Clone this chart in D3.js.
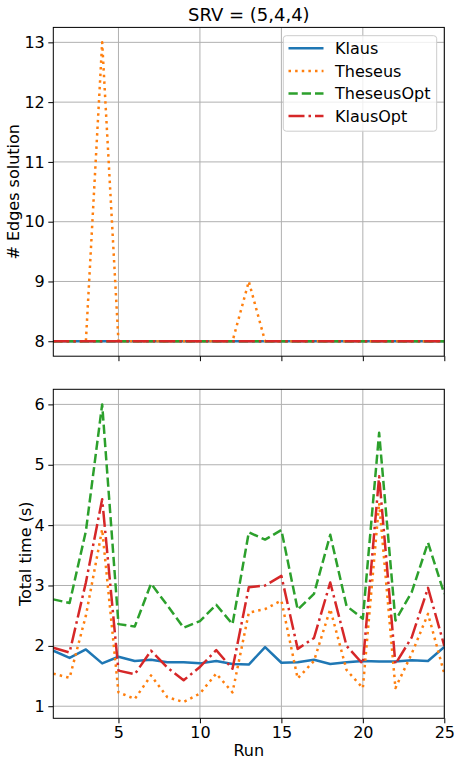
<!DOCTYPE html>
<html><head><meta charset="utf-8">
<script src="https://cdn.jsdelivr.net/npm/d3@7"></script>
<style>
html,body{margin:0;padding:0;background:#fff;}
svg{display:block;font-family:"DejaVu Sans",sans-serif;}
</style></head>
<body>
<script>
const title = "SRV = (5,4,4)";
const runs = d3.range(1, 26);
const seriesNames = ["Klaus", "Theseus", "TheseusOpt", "KlausOpt"];
const colors = ["#1f77b4", "#ff7f0e", "#2ca02c", "#d62728"];

const edgesKlaus      = [8,8,8,8,8,8,8,8,8,8,8,8,8,8,8,8,8,8,8,8,8,8,8,8,8];
const edgesTheseus    = [8,8,8,13,8,8,8,8,8,8,8,8,9,8,8,8,8,8,8,8,8,8,8,8,8];
const edgesTheseusOpt = [8,8,8,8,8,8,8,8,8,8,8,8,8,8,8,8,8,8,8,8,8,8,8,8,8];
const edgesKlausOpt   = [8,8,8,8,8,8,8,8,8,8,8,8,8,8,8,8,8,8,8,8,8,8,8,8,8];

const timeKlaus      = [1.92,1.80,1.94,1.71,1.82,1.75,1.77,1.73,1.73,1.71,1.75,1.70,1.69,1.98,1.72,1.73,1.77,1.70,1.73,1.75,1.74,1.74,1.76,1.75,1.98];
const timeTheseus    = [1.54,1.47,2.50,3.93,1.23,1.12,1.51,1.15,1.07,1.21,1.54,1.23,2.55,2.61,2.75,1.46,1.75,2.61,1.60,1.30,4.37,1.30,1.87,2.53,1.54];
const timeTheseusOpt = [2.77,2.71,3.90,6.00,2.36,2.32,3.03,2.67,2.30,2.41,2.68,2.36,3.88,3.76,3.92,2.60,2.86,3.84,2.66,2.45,5.53,2.42,2.89,3.71,2.86];
const timeKlausOpt   = [1.97,1.89,3.05,4.43,1.59,1.53,1.92,1.64,1.43,1.65,1.93,1.62,2.97,3.00,3.16,1.95,2.13,3.05,2.00,1.70,4.81,1.70,2.14,2.96,2.00];

const edgeTicks = [8,9,10,11,12,13];
const timeTicks = [1,2,3,4,5,6];
const xTicks = [5,10,15,20,25];

const W = 461, H = 766;
const L = 53.3, R = 444.3;
const top1 = 27.4, bot1 = 356.2;
const top2 = 389.3, bot2 = 718.3;
const LW = 2.5;
const dashes = [null, `${1*LW},${1.65*LW}`, `${3.7*LW},${1.6*LW}`, `${6.4*LW},${1.6*LW},${1*LW},${1.6*LW}`];

const svg = d3.select("body").append("svg").attr("width", W).attr("height", H);

const x = d3.scaleLinear().domain([1, 25]).range([L, R]);
const yE = d3.scaleLinear().domain([7.75, 13.25]).range([bot1, top1]);
const yT = d3.scaleLinear().domain([0.8, 6.25]).range([bot2, top2]);

function panel(y, top, bot, ticks, data, showX, ylabel, ylabelX) {
  const g = svg.append("g");
  const id = "clip" + Math.round(top);
  svg.append("clipPath").attr("id", id).append("rect")
    .attr("x", L).attr("y", top).attr("width", R - L).attr("height", bot - top);
  g.append("g").selectAll("line").data(xTicks).join("line")
    .attr("x1", d => x(d)).attr("x2", d => x(d)).attr("y1", top).attr("y2", bot)
    .attr("stroke", "#b0b0b0").attr("stroke-width", 1);
  g.append("g").selectAll("line").data(ticks).join("line")
    .attr("x1", L).attr("x2", R).attr("y1", d => y(d)).attr("y2", d => y(d))
    .attr("stroke", "#b0b0b0").attr("stroke-width", 1);
  const line = d3.line().x((d, i) => x(runs[i])).y(d => y(d));
  const lg = g.append("g").attr("clip-path", `url(#${id})`);
  data.forEach((arr, k) => {
    lg.append("path").attr("d", line(arr)).attr("fill", "none")
      .attr("stroke", colors[k]).attr("stroke-width", LW)
      .attr("stroke-dasharray", dashes[k]).attr("stroke-linejoin", "round")
      .attr("stroke-linecap", "butt");
  });
  const ax = d3.axisBottom(x).tickValues(xTicks).tickSize(5).tickPadding(3.5)
    .tickFormat(showX ? d3.format("d") : () => "");
  const gx = g.append("g").attr("transform", `translate(0,${bot})`).call(ax);
  const ay = d3.axisLeft(y).tickValues(ticks).tickSize(5).tickPadding(3.5).tickFormat(d3.format("d"));
  const gy = g.append("g").attr("transform", `translate(${L},0)`).call(ay);
  [gx, gy].forEach(a => {
    a.select(".domain").remove();
    a.selectAll("line").attr("stroke", "#000").attr("stroke-width", 1);
    a.selectAll("text").attr("fill", "#000").style("font-size", "16px").style("font-family", "DejaVu Sans");
  });
  g.append("rect").attr("x", L).attr("y", top).attr("width", R - L).attr("height", bot - top)
    .attr("fill", "none").attr("stroke", "#000").attr("stroke-width", 1);
  g.append("text").attr("transform", `translate(${ylabelX},${(top + bot) / 2}) rotate(-90)`)
    .attr("text-anchor", "middle").attr("dominant-baseline", "central")
    .style("font-size", "16px").text(ylabel);
}

panel(yE, top1, bot1, edgeTicks, [edgesKlaus, edgesTheseus, edgesTheseusOpt, edgesKlausOpt], false, "# Edges solution", 13);
panel(yT, top2, bot2, timeTicks, [timeKlaus, timeTheseus, timeTheseusOpt, timeKlausOpt], true, "Total time (s)", 25);

svg.append("text").attr("x", (L + R) / 2).attr("y", 21).attr("text-anchor", "middle")
  .style("font-size", "18px").text(title);
svg.append("text").attr("x", (L + R) / 2).attr("y", 756).attr("text-anchor", "middle")
  .style("font-size", "16px").text("Run");

const lgX = 283.3, lgY = 35.7, lgW = 153.4, lgH = 95.5;
const leg = svg.append("g");
leg.append("rect").attr("x", lgX).attr("y", lgY).attr("width", lgW).attr("height", lgH)
  .attr("rx", 3).attr("fill", "#fff").attr("fill-opacity", 0.8)
  .attr("stroke", "#cccccc").attr("stroke-width", 1);
const rowY = [48.3, 71, 93.5, 116];
seriesNames.forEach((name, k) => {
  leg.append("line").attr("x1", 288.5).attr("x2", 323.5).attr("y1", rowY[k]).attr("y2", rowY[k])
    .attr("stroke", colors[k]).attr("stroke-width", LW).attr("stroke-dasharray", dashes[k]);
  leg.append("text").attr("x", 335).attr("y", rowY[k]).attr("dominant-baseline", "central")
    .style("font-size", "16px").text(name);
});
</script>
</body></html>
